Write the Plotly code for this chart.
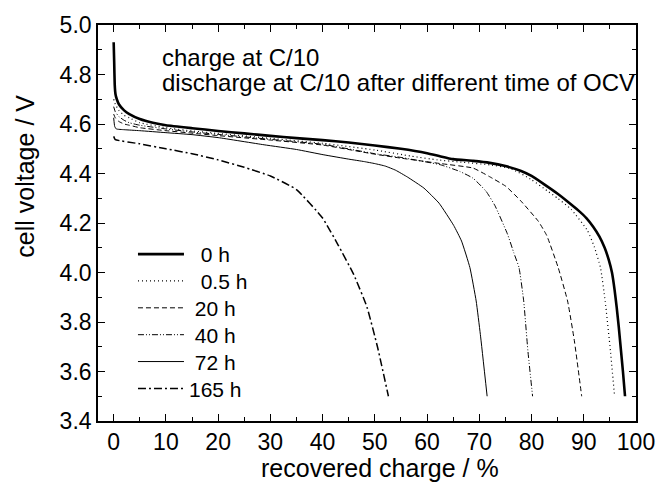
import plotly.graph_objects as go

# Discharge curves: recovered charge (%) vs cell voltage (V) after different OCV rest times
labels = ["\u00a0\u00a00 h", "\u00a0\u00a00.5 h", "\u00a020 h", "\u00a040 h", "\u00a072 h", "165 h"]

q_0h = [0, 0.1, 0.2, 0.35, 0.6, 1, 2, 3, 5, 7.5, 10, 15, 20, 25, 30, 35, 40, 45, 50, 55, 60,
        62.6, 65, 68.8, 72, 75, 78, 80, 82.5, 85, 87, 89, 90.5, 91.8, 93, 94, 94.8, 95.4, 95.9,
        96.3, 96.7, 97.1, 97.5, 97.9]
v_0h = [4.93, 4.85, 4.76, 4.72, 4.70, 4.68, 4.655, 4.64, 4.62, 4.605, 4.595, 4.583, 4.572, 4.562,
        4.552, 4.543, 4.535, 4.525, 4.513, 4.50, 4.482, 4.469, 4.458, 4.451, 4.443, 4.43, 4.41,
        4.39, 4.355, 4.318, 4.285, 4.25, 4.22, 4.185, 4.145, 4.10, 4.05, 4.0, 3.93, 3.86, 3.78,
        3.69, 3.6, 3.50]

q_05h = [0, 0.3, 1, 2, 3, 5, 10, 15, 20, 30, 40, 50, 57, 62, 67, 72, 76, 80, 83, 85,
         87.6, 90.7, 92, 93.2, 94.1, 95.1, 95.9]
v_05h = [4.70, 4.68, 4.655, 4.635, 4.625, 4.605, 4.585, 4.572, 4.562, 4.542, 4.522, 4.495,
         4.47, 4.455, 4.445, 4.435, 4.42, 4.375, 4.33, 4.30, 4.255, 4.17, 4.105, 4.02, 3.885,
         3.684, 3.50]

q_20h = [0, 0.3, 1, 2, 3, 5, 10, 15, 20, 30, 40, 50, 55, 62.6, 68.8, 71.9, 75.1, 78, 81.3,
         82.9, 85.1, 86.9, 88.2, 89.6]
v_20h = [4.64, 4.625, 4.61, 4.60, 4.595, 4.585, 4.573, 4.563, 4.553, 4.535, 4.515, 4.478,
         4.462, 4.44, 4.422, 4.388, 4.348, 4.288, 4.207, 4.15, 4.02, 3.885, 3.724, 3.50]

q_40h = [0, 0.3, 1, 2, 3, 5, 10, 15, 20, 30, 40, 50, 55, 62.6, 66.3, 68.8, 71.3, 73.0, 75.4,
         76.6, 77.6, 78.5, 79.3, 80.2]
v_40h = [4.67, 4.65, 4.63, 4.615, 4.605, 4.595, 4.58, 4.568, 4.558, 4.538, 4.518, 4.48, 4.465,
         4.435, 4.408, 4.381, 4.328, 4.27, 4.155, 4.08, 4.02, 3.885, 3.684, 3.50]

q_72h = [0, 0.2, 0.5, 2, 5, 10, 15, 20, 28.8, 35, 40.1, 45, 48, 50, 52, 54, 56.3, 59.4, 62.3,
         65.1, 66.6, 68.2, 69.4, 70.2, 71.5]
v_72h = [4.625, 4.59, 4.58, 4.577, 4.573, 4.565, 4.557, 4.545, 4.516, 4.497, 4.476, 4.458,
         4.448, 4.44, 4.43, 4.413, 4.385, 4.341, 4.28, 4.19, 4.127, 4.02, 3.885, 3.75, 3.50]

q_165h = [0, 0.3, 5, 10, 15, 20, 25, 30, 35, 40, 43, 46, 48.5, 50.5, 52.6]
v_165h = [4.55, 4.537, 4.52, 4.50, 4.48, 4.455, 4.425, 4.39, 4.335, 4.22, 4.11, 3.99, 3.86,
          3.70, 3.50]

x_ticks = list(range(0, 101, 10))
y_ticks = [3.4, 3.6, 3.8, 4.0, 4.2, 4.4, 4.6, 4.8, 5.0]

series = [
    (labels[0], q_0h, v_0h, 2.6, "solid"),
    (labels[1], q_05h, v_05h, 1.2, "1px,3px"),
    (labels[2], q_20h, v_20h, 1.0, "5px,3px"),
    (labels[3], q_40h, v_40h, 1.0, "6px,2px,1px,2px,1px,2px"),
    (labels[4], q_72h, v_72h, 1.0, "solid"),
    (labels[5], q_165h, v_165h, 1.5, "8px,3px,2px,3px"),
]

FONT = "Arial, Liberation Sans, sans-serif"
PLOT_TOP, PLOT_BOTTOM = 23, 421


def paper_y(px):
    return (PLOT_BOTTOM - px) / (PLOT_BOTTOM - PLOT_TOP)


# each key gets its own legend box so the rows can sit at a tighter pitch
legend_names = ["legend", "legend2", "legend3", "legend4", "legend5", "legend6"]
row_centres = [248, 275, 302, 329, 356, 383]

fig = go.Figure()
for (name, q, v, w, dash), lg in zip(series, legend_names):
    fig.add_trace(go.Scatter(
        x=q, y=v, name=name, mode="lines", legend=lg,
        line=dict(color="black", width=w, dash=dash, shape="spline", smoothing=0.4),
    ))

axis_common = dict(
    showline=True, linecolor="black", linewidth=1.6, mirror="allticks",
    ticks="inside", ticklen=7, tickwidth=1.3, tickcolor="black",
    showgrid=False, zeroline=False,
    tickfont=dict(family=FONT, size=23, color="black"),
)

fig.update_xaxes(
    range=[-3, 100], tickvals=x_ticks, ticktext=[str(t) for t in x_ticks],
    minor=dict(ticks="inside", ticklen=4, dtick=5, tick0=0, tickcolor="black", tickwidth=1.3),
    **axis_common,
)
fig.update_yaxes(
    range=[3.4, 5.0], tickvals=y_ticks, ticktext=[f"{t:.1f}" for t in y_ticks],
    minor=dict(ticks="inside", ticklen=4, dtick=0.1, tick0=3.4, tickcolor="black", tickwidth=1.3),
    **axis_common,
)

# Two-line note in the upper part of the plot
note_font = dict(family=FONT, size=24, color="black")
fig.add_annotation(
    text="charge at C/10",
    xref="paper", yref="paper", x=0.115, y=paper_y(56), xanchor="left", yanchor="middle",
    showarrow=False, font=note_font,
)
fig.add_annotation(
    text="discharge at C/10 after different time of OCV",
    xref="paper", yref="paper", x=0.115, y=paper_y(81), xanchor="left", yanchor="middle",
    showarrow=False, font=note_font,
)
fig.add_annotation(
    text="cell voltage / V", textangle=-90,
    xref="paper", yref="paper", x=-0.135, y=0.618, xanchor="center", yanchor="middle",
    showarrow=False, font=dict(family=FONT, size=25, color="black"),
)
fig.add_annotation(
    text="recovered charge / %",
    xref="paper", yref="paper", x=0.524, y=-0.118, xanchor="center", yanchor="middle",
    showarrow=False, font=dict(family=FONT, size=25, color="black"),
)

legend_style = dict(
    x=0.065, xanchor="left", yanchor="top", bgcolor="rgba(0,0,0,0)",
    font=dict(family=FONT, size=21, color="black"), itemwidth=46,
)
layout_legends = {lg: dict(y=paper_y(c - 15), **legend_style)
                  for lg, c in zip(legend_names, row_centres)}

fig.update_layout(
    width=667, height=488,
    margin=dict(l=98, r=21, t=PLOT_TOP, b=488 - PLOT_BOTTOM),
    paper_bgcolor="white", plot_bgcolor="white",
    showlegend=True,
    **layout_legends,
)

fig.write_html("out.html")
